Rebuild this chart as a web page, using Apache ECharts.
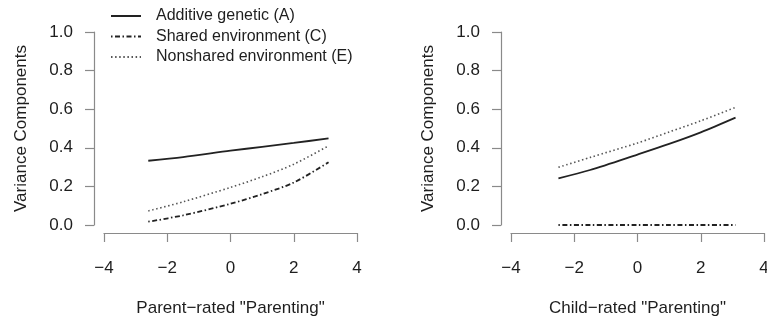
<!DOCTYPE html>
<html>
<head>
<meta charset="utf-8">
<script src="https://cdn.jsdelivr.net/npm/echarts@6/dist/echarts.min.js"></script>
<style>
  html, body { margin: 0; padding: 0; background: #fff; }
  #main { width: 767px; height: 322px; }
</style>
</head>
<body>
<div id="main"></div>
<script>
// values
var seriesNames = ['Additive genetic (A)', 'Shared environment (C)', 'Nonshared environment (E)'];

var xLeft = [-2.6, -1.5, 0, 1, 2, 3.1];
var leftA = [0.333, 0.352, 0.385, 0.405, 0.425, 0.449];
var leftC = [0.017, 0.05, 0.11, 0.16, 0.22, 0.325];
var leftE = [0.073, 0.12, 0.195, 0.25, 0.315, 0.41];

var xRight = [-2.5, -1.5, 0, 1, 2, 3.1];
var rightA = [0.242, 0.285, 0.365, 0.42, 0.48, 0.556];
var rightC = [0, 0, 0, 0, 0, 0];
var rightE = [0.299, 0.35, 0.425, 0.482, 0.54, 0.61];

var xTitles = ['Parent\u2212rated "Parenting"', 'Child\u2212rated "Parenting"'];
var yTitle = 'Variance Components';

var FONT = 'Liberation Sans, Arial, Helvetica, sans-serif';
var TXT = '#1e1e1e';
var AXIS = '#8a8a8a';

function zip(xs, ys) {
  var out = [];
  for (var i = 0; i < xs.length; i++) out.push([xs[i], ys[i]]);
  return out;
}

// line look per component: solid, dot-dash, dotted
var lineStyles = [
  { color: '#222', width: 1.8, type: 'solid' },
  { color: '#222', width: 1.8, type: [1.5, 2.5, 5, 2.5], cap: 'butt' },
  { color: '#555', width: 1.6, type: [1.5, 2.6], cap: 'butt' }
];

function makeX(idx) {
  return {
    type: 'value', gridIndex: idx, min: -4, max: 4, interval: 2,
    offset: 8,
    name: xTitles[idx], nameLocation: 'middle', nameGap: 67,
    nameTextStyle: { fontSize: 17, color: TXT, fontFamily: FONT },
    axisLine: { show: true, onZero: false, lineStyle: { color: AXIS, width: 1.2 } },
    axisTick: { show: true, inside: false, length: 9, lineStyle: { color: AXIS, width: 1.2 } },
    axisLabel: {
      fontSize: 17, color: TXT, fontFamily: FONT, margin: 27,
      formatter: function(v) { return v < 0 ? '\u2212' + Math.abs(v) : String(v); }
    },
    splitLine: { show: false }
  };
}

function makeY(idx) {
  return {
    type: 'value', gridIndex: idx, min: 0, max: 1, interval: 0.2,
    offset: 10,
    name: yTitle, nameLocation: 'middle', nameGap: 64, nameRotate: 90,
    nameTextStyle: { fontSize: 17, color: TXT, fontFamily: FONT },
    axisLine: { show: true, onZero: false, lineStyle: { color: AXIS, width: 1.2 } },
    axisTick: { show: true, inside: false, length: 9, lineStyle: { color: AXIS, width: 1.2 } },
    axisLabel: {
      fontSize: 17, color: TXT, fontFamily: FONT, margin: 21,
      formatter: function(v) { return v.toFixed(1); }
    },
    splitLine: { show: false }
  };
}

function makeSeries(idx, xs, lists) {
  return lists.map(function(ys, k) {
    return {
      name: seriesNames[k], type: 'line',
      xAxisIndex: idx, yAxisIndex: idx,
      data: zip(xs, ys),
      smooth: 0.3, symbol: 'none', silent: true,
      itemStyle: { color: lineStyles[k].color },
      lineStyle: lineStyles[k],
      z: 3 - k
    };
  });
}

var chart = echarts.init(document.getElementById('main'), null, { renderer: 'canvas' });

var option = {
  backgroundColor: '#fff',
  animation: false,
  textStyle: { fontFamily: FONT },
  legend: {
    data: seriesNames,
    orient: 'vertical',
    left: 105, top: 3,
    itemWidth: 30, itemHeight: 14, itemGap: 4.5,
    selectedMode: false,
    itemStyle: { opacity: 0 },
    textStyle: { fontSize: 16, color: TXT, fontFamily: FONT, lineHeight: 16, padding: [0, 0, 0, 10] }
  },
  grid: [
    { left: 104, top: 32, width: 253, height: 193, outerBoundsMode: 'none' },
    { left: 511, top: 32, width: 253, height: 193, outerBoundsMode: 'none' }
  ],
  xAxis: [makeX(0), makeX(1)],
  yAxis: [makeY(0), makeY(1)],
  series: makeSeries(0, xLeft, [leftA, leftC, leftE])
    .concat(makeSeries(1, xRight, [rightA, rightC, rightE]))
};

chart.setOption(option);
</script>
</body>
</html>
